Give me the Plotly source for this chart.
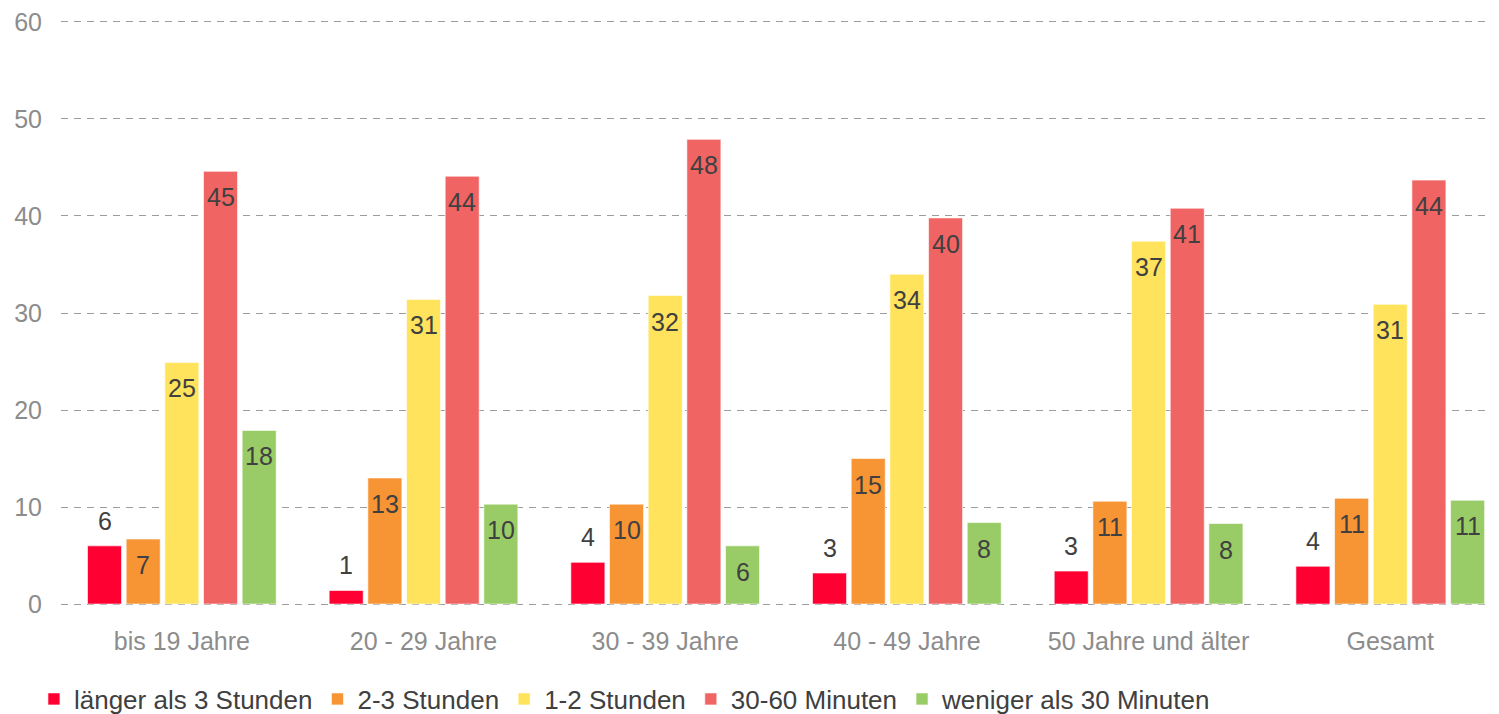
import plotly.graph_objects as go

categories = ["bis 19 Jahre", "20 - 29 Jahre", "30 - 39 Jahre", "40 - 49 Jahre", "50 Jahre und älter", "Gesamt"]
series_names = ["länger als 3 Stunden", "2-3 Stunden", "1-2 Stunden", "30-60 Minuten", "weniger als 30 Minuten"]
v_laenger3 = [6.0, 1.4, 4.3, 3.2, 3.4, 3.9]
v_2_3 = [6.7, 13.0, 10.3, 15.0, 10.6, 10.9]
v_1_2 = [24.9, 31.4, 31.8, 34.0, 37.4, 30.9]
v_30_60 = [44.6, 44.1, 47.9, 39.8, 40.8, 43.7]
v_weniger30 = [17.9, 10.3, 6.0, 8.4, 8.3, 10.7]
series_values = [v_laenger3, v_2_3, v_1_2, v_30_60, v_weniger30]
colors = ["#FF0033", "#F79433", "#FFE35C", "#F06464", "#99CC66"]
label_outside = [True, False, False, False, False]
y_ticks = [0, 10, 20, 30, 40, 50, 60]

FONT = "Liberation Sans, Arial, sans-serif"
FS = 25
BARGAP = 0.2
n = len(series_names)
slot = (1 - BARGAP) / n

fig = go.Figure()
annotations = []
for s, (name, vals, col) in enumerate(zip(series_names, series_values, colors)):
    fig.add_trace(go.Bar(
        x=categories, y=vals, name=name,
        marker=dict(color=col, line=dict(color="rgba(255,255,255,0.6)", width=1)),
    ))
    off = -(1 - BARGAP) / 2 + slot * (s + 0.5)
    for i, v in enumerate(vals):
        outside = label_outside[s]
        annotations.append(dict(
            x=i + off, y=v, xref="x", yref="y",
            text=f"{round(v):d}", showarrow=False,
            yanchor="bottom" if outside else "top",
            yshift=9 if outside else -10,
            font=dict(family=FONT, size=FS, color="#404040"),
        ))

fig.update_layout(
    width=1491, height=706,
    barmode="group", bargap=BARGAP, bargroupgap=0.12,
    plot_bgcolor="white", paper_bgcolor="white",
    margin=dict(l=53, r=0, t=12, b=108, autoexpand=False),
    font=dict(family=FONT, size=FS, color="#8C8C8C"),
    annotations=annotations,
    xaxis=dict(range=[-0.5, 5.45], showline=False, ticks="", showgrid=False,
               automargin=False, ticklabelstandoff=18, ticklabeloverflow="allow",
               tickfont=dict(family=FONT, size=FS, color="#8C8C8C")),
    yaxis=dict(range=[-0.2, 60.2], tickvals=y_ticks, showgrid=True, gridcolor="#9C9C9C",
               griddash="7px,6px", gridwidth=1, zeroline=False, ticks="",
               automargin=False, ticklabelstandoff=18, ticklabeloverflow="allow",
               tickfont=dict(family=FONT, size=FS, color="#8C8C8C")),
    legend=dict(orientation="h", xref="container", x=0.0174, xanchor="left",
                yref="container", y=0.0212, yanchor="middle",
                font=dict(family=FONT, size=26, color="#404040"), traceorder="normal"),
    showlegend=True,
)
fig.write_html("out.html")
